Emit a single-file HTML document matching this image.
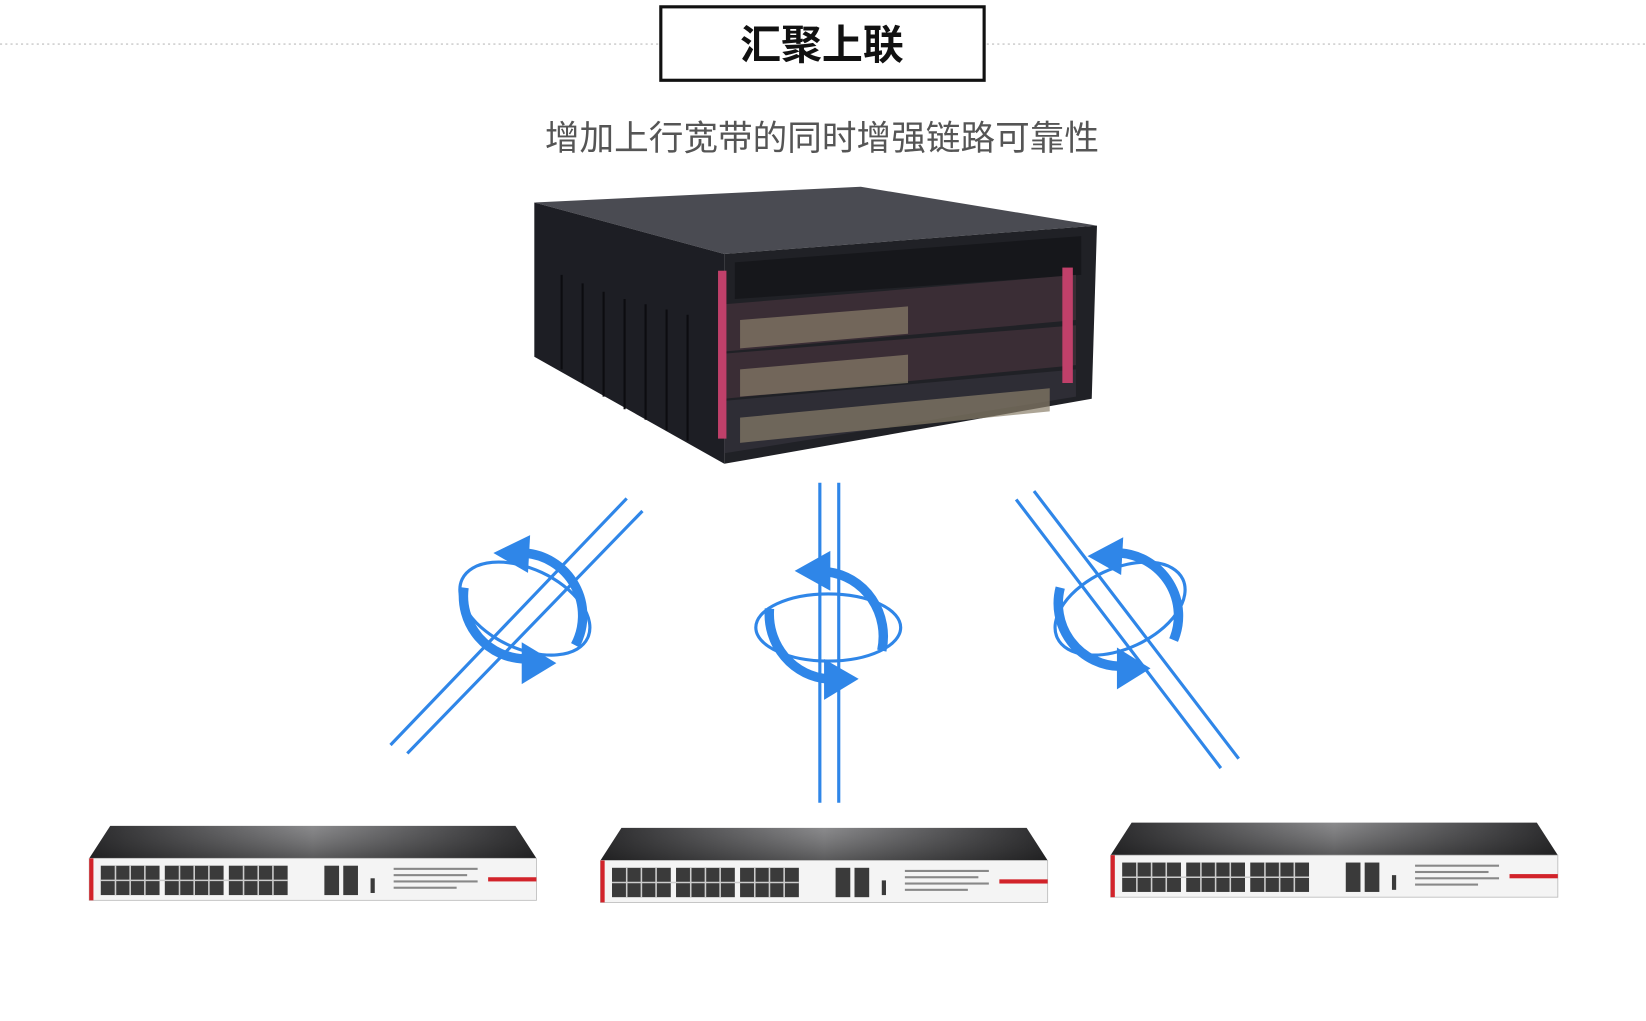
<!DOCTYPE html>
<html><head><meta charset="utf-8"><style>
html,body{margin:0;padding:0;background:#fff;width:1646px;height:1021px;overflow:hidden}
svg{display:block}
</style></head><body>
<svg width="1646" height="1021" viewBox="0 0 1568 973" preserveAspectRatio="none" xmlns="http://www.w3.org/2000/svg">
<defs>
<linearGradient id="top" x1="0" y1="0" x2="1" y2="0"><stop offset="0" stop-color="#2a2a2c"/><stop offset="0.5" stop-color="#8a8a8c"/><stop offset="1" stop-color="#2a2a2c"/></linearGradient>
<linearGradient id="tv" x1="0" y1="0" x2="0" y2="1"><stop offset="0" stop-color="#333" stop-opacity="0"/><stop offset="1" stop-color="#111" stop-opacity="0.4"/></linearGradient>
<g id="sw">
<polygon points="20,0 406,0 426,31 0,31" fill="url(#top)"/>
<polygon points="20,0 406,0 426,31 0,31" fill="url(#tv)"/>
<rect x="0" y="31" width="426" height="40" fill="#f4f4f4" stroke="#bbb" stroke-width="0.8"/>
<rect x="0" y="31" width="4" height="40" fill="#d2232a"/>
<rect x="380" y="49" width="46" height="4" fill="#d2232a"/>
<g fill="#3a3a3a">
<rect x="11" y="38" width="56" height="28"/><rect x="72" y="38" width="56" height="28"/><rect x="133" y="38" width="56" height="28"/>
<rect x="224" y="38" width="14" height="28"/><rect x="242" y="38" width="14" height="28"/>
<rect x="268" y="50" width="4" height="14"/>
</g>
<g stroke="#ccc" stroke-width="1.5">
<line x1="11" y1="52" x2="189" y2="52"/>
<line x1="25" y1="38" x2="25" y2="66"/><line x1="39" y1="38" x2="39" y2="66"/><line x1="53" y1="38" x2="53" y2="66"/>
<line x1="86" y1="38" x2="86" y2="66"/><line x1="100" y1="38" x2="100" y2="66"/><line x1="114" y1="38" x2="114" y2="66"/>
<line x1="147" y1="38" x2="147" y2="66"/><line x1="161" y1="38" x2="161" y2="66"/><line x1="175" y1="38" x2="175" y2="66"/>
</g>
<g fill="#888"><rect x="290" y="40" width="80" height="2"/><rect x="290" y="46" width="70" height="2"/><rect x="290" y="52" width="80" height="2"/><rect x="290" y="58" width="60" height="2"/></g>
</g>
</defs>

<line x1="0" y1="42" x2="628" y2="42" stroke="#bbb" stroke-width="1" stroke-dasharray="2,3"/>
<line x1="940" y1="42" x2="1568" y2="42" stroke="#bbb" stroke-width="1" stroke-dasharray="2,3"/>
<rect x="629.5" y="6.5" width="308" height="70" fill="#fff" stroke="#111" stroke-width="3"/>
<text x="783" y="56" text-anchor="middle" font-family="'Liberation Sans','Noto Sans CJK SC',sans-serif" font-size="39" font-weight="bold" fill="#111">汇聚上联</text>
<text x="783" y="143" text-anchor="middle" font-family="'Liberation Sans','Noto Sans CJK SC',sans-serif" font-size="33" fill="#555">增加上行宽带的同时增强链路可靠性</text>

<!-- chassis -->
<polygon points="509,193 820,178 1045,215 690,242" fill="#4a4b52"/>
<polygon points="509,193 690,242 690,442 509,340" fill="#1d1e24"/>
<g stroke="#0c0c10" stroke-width="2">
<line x1="535" y1="262" x2="535" y2="352"/><line x1="555" y1="270" x2="555" y2="365"/><line x1="575" y1="278" x2="575" y2="378"/><line x1="595" y1="285" x2="595" y2="390"/><line x1="615" y1="290" x2="615" y2="400"/><line x1="635" y1="295" x2="635" y2="410"/><line x1="655" y1="300" x2="655" y2="420"/>
</g>
<polygon points="690,242 1045,215 1040,380 690,442" fill="#202126"/>
<polygon points="700,250 1030,225 1030,262 700,285" fill="#16171b"/>
<polygon points="690,290 1025,262 1025,305 690,335" fill="#3a2d35"/>
<polygon points="690,337 1025,310 1025,348 690,380" fill="#3a2d35"/>
<polygon points="690,382 1025,352 1025,378 690,432" fill="#2e2d35"/>
<g fill="#8a7f6a" opacity="0.7">
<polygon points="705,305 865,292 865,318 705,332"/>
<polygon points="705,352 865,338 865,365 705,378"/>
<polygon points="705,398 1000,370 1000,392 705,422"/>
</g>
<rect x="684" y="258" width="8" height="160" fill="#c0406a"/>
<rect x="1012" y="255" width="10" height="110" fill="#c0406a"/>

<!-- lines -->
<g stroke="#2f86e8" stroke-width="3" fill="none">
<line x1="597" y1="475" x2="372" y2="710"/><line x1="612" y1="487" x2="388" y2="718"/>
<line x1="781" y1="460" x2="781" y2="765"/><line x1="799" y1="460" x2="799" y2="765"/>
<line x1="968" y1="476" x2="1163" y2="732"/><line x1="985" y1="468" x2="1180" y2="723"/>
</g>

<!-- rotation icons -->
<g fill="none" stroke="#2f86e8" stroke-width="3">
<ellipse cx="500" cy="580" rx="66" ry="38" transform="rotate(25 500 580)"/>
<ellipse cx="789" cy="598" rx="69" ry="32"/>
<ellipse cx="1067" cy="580" rx="66" ry="38" transform="rotate(-25 1067 580)"/>
</g>
<g fill="none" stroke="#2f86e8" stroke-width="9" stroke-linecap="butt">
<path d="M500,527 A60,60 0 0 1 548,615"/><path d="M500,628 A60,60 0 0 1 442,560"/>
<path d="M789,545 A60,62 0 0 1 840,620"/><path d="M789,647 A60,62 0 0 1 733,580"/>
<path d="M1067,527 A60,60 0 0 1 1118,610"/><path d="M1067,635 A60,60 0 0 1 1010,560"/>
</g>
<g fill="#2f86e8">
<polygon points="470,527 505,510 503,546"/><polygon points="497,612 530,632 497,652"/>
<polygon points="757,544 791,525 791,563"/><polygon points="785,628 818,647 785,667"/>
<polygon points="1036,530 1070,512 1068,548"/><polygon points="1064,617 1096,637 1064,657"/>
</g>

<use href="#sw" x="85" y="787"/>
<use href="#sw" x="572" y="789"/>
<use href="#sw" x="1058" y="784"/>
</svg>
</body></html>
